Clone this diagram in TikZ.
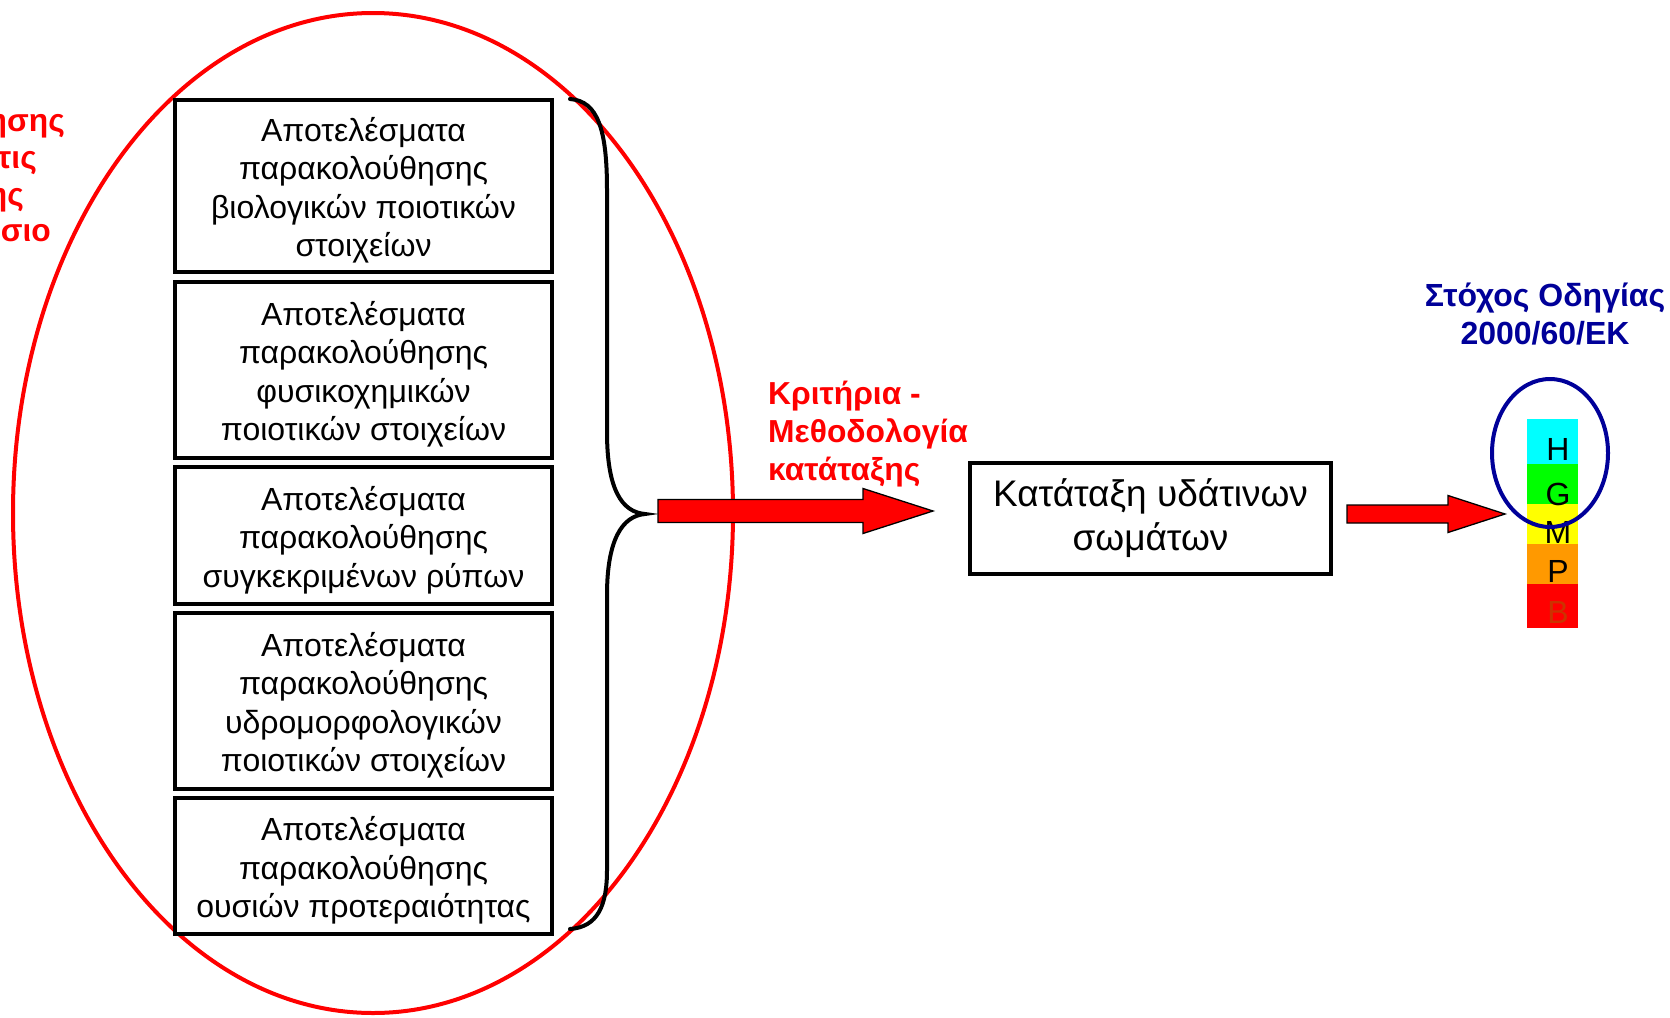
\documentclass[tikz,border=0pt]{standalone}
\usepackage{fontspec}
\setmainfont{Liberation Sans}
\usetikzlibrary{calc}
\definecolor{navy}{RGB}{0,0,153}
\definecolor{orng}{RGB}{255,153,0}
\definecolor{brn}{RGB}{204,51,0}
\definecolor{aqua}{RGB}{0,255,255}
\definecolor{lime}{RGB}{0,255,0}
\definecolor{yel}{RGB}{255,255,0}
\newcommand\topgap{\rule{0pt}{33pt}}
\newcommand\blockarrow[5]{%
  \draw[blkarrow] ($(#1)+(0,-#3)$) -- ($(#2)+(-#5,-#3)$) -- ($(#2)+(-#5,-#4)$) -- (#2)
    -- ($(#2)+(-#5,#4)$) -- ($(#2)+(-#5,#3)$) -- ($(#1)+(0,#3)$) -- cycle;}
\begin{document}
\begin{tikzpicture}[x=1pt,y=-1pt,
  resbox/.style={draw=black, line width=4pt, fill=white, minimum width=377pt,
    align=center, inner sep=0pt, font=\fontsize{32}{38.5}\selectfont},
  mainbox/.style={draw=black, line width=4pt, fill=white, minimum width=361pt,
    minimum height=111pt, align=center, inner sep=0pt, font=\fontsize{37}{44}\selectfont},
  redlbl/.style={text=red, font=\bfseries\fontsize{31.8}{38}\selectfont, inner sep=0pt},
  bluelbl/.style={text=navy, font=\bfseries\fontsize{32}{38}\selectfont, inner sep=0pt, align=center},
  blkarrow/.style={fill=red, draw=black, line width=1.3pt, line join=miter},
  barlbl/.style={font=\fontsize{32}{36}\selectfont, inner sep=0pt, anchor=base},
  brace/.style={draw=black, line width=4pt, line cap=round}
]
\useasboundingbox (0,0) rectangle (1670,1017);

% big red ellipse
\draw[red, line width=4pt] (373,513) ellipse [x radius=360, y radius=500];

% left clipped red text
\node[redlbl, anchor=base east] (l1) at (65,131) {ησης};
\node[redlbl, anchor=base east] (l2) at (37,168) {τις};
\node[redlbl, anchor=base east] (l3) at (24,205) {ης};
\node[redlbl, anchor=base east] (l4) at (51,241) {ίσιο};

% result boxes
\node[resbox, minimum height=172pt] (b1) at (363.5,186)
  {\topgap Αποτελέσματα\\παρακολούθησης\\βιολογικών ποιοτικών\\στοιχείων};
\node[resbox, minimum height=176pt] (b2) at (363.5,370)
  {\topgap Αποτελέσματα\\παρακολούθησης\\φυσικοχημικών\\ποιοτικών στοιχείων};
\node[resbox, minimum height=137pt] (b3) at (363.5,535.5)
  {\topgap Αποτελέσματα\\παρακολούθησης\\συγκεκριμένων ρύπων};
\node[resbox, minimum height=176pt] (b4) at (363.5,701)
  {\topgap Αποτελέσματα\\παρακολούθησης\\υδρομορφολογικών\\ποιοτικών στοιχείων};
\node[resbox, minimum height=136pt] (b5) at (363.5,866)
  {\topgap Αποτελέσματα\\παρακολούθησης\\ουσιών προτεραιότητας};

% brace
\coordinate (bt) at (645,514);
\draw[brace] (570,99) .. controls (598,101) and (607,130) .. (607,190)
  -- (607,432) .. controls (607,490) and (622,512) .. (bt)
  .. controls (622,516) and (607,540) .. (607,595)
  -- (607,870) .. controls (607,905) and (598,927) .. (570,929);

% classification box
\node[mainbox] (cls) at (1150.5,518.5) {Κατάταξη υδάτινων\\σωμάτων};

% arrows
\coordinate (a1s) at (658,511);
\coordinate (a1e) at (933,511);
\blockarrow{a1s}{a1e}{11.5}{22.5}{70}
\coordinate (a2s) at (1347,514);
\coordinate (a2e) at (1505,514);
\blockarrow{a2s}{a2e}{9}{18.5}{57}

% criteria label
\node[redlbl, align=left, anchor=west] (crit) at (768,434)
  {Κριτήρια -\\Μεθοδολογία\\κατάταξης};

% title
\node[bluelbl] (goal) at (1545,314) {Στόχος Οδηγίας\\2000/60/ΕΚ};

% colour bar
\fill[aqua] (1527,419) rectangle (1578,464);
\fill[lime] (1527,464) rectangle (1578,504);
\fill[yel] (1527,504) rectangle (1578,544);
\fill[orng] (1527,544) rectangle (1578,584);
\fill[red] (1527,584) rectangle (1578,628);
\node[barlbl] (h) at (1558,460) {H};
\node[barlbl] (g) at (1558,505) {G};
\node[barlbl] (m) at (1558,543) {M};
\node[barlbl] (p) at (1558,582) {P};
\node[barlbl, text=brn] (bb) at (1558,623) {B};

% blue ellipse
\draw[navy, line width=4pt] (1550,453) ellipse [x radius=58, y radius=74];
\end{tikzpicture}
\end{document}
